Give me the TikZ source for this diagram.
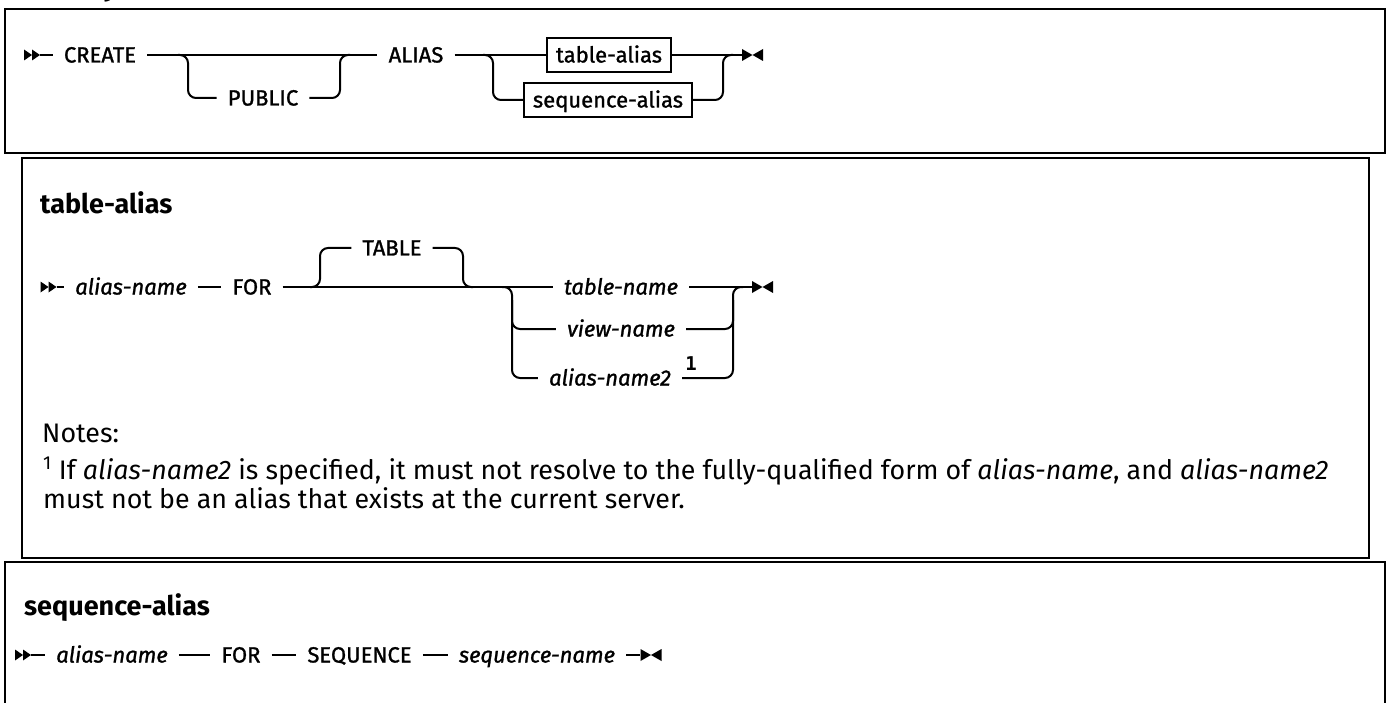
\documentclass[tikz,border=0pt]{standalone}
\usepackage{fontspec}
\setmainfont{Fira Sans}
\newfontfamily\railf{Fira Sans}[FakeBold=1.2]
\newfontfamily\monof{DejaVu Sans Mono}
\begin{document}
\begin{tikzpicture}[x=1pt,y=-1pt,
  rail/.style={line width=2pt, rounded corners=8pt},
  frame/.style={line width=2.5pt},
  kw/.style={font=\railf\fontsize{22}{26}\selectfont, inner xsep=11pt, inner ysep=0pt, text height=15pt, text depth=0pt},
  var/.style={kw, font=\railf\fontsize{22}{26}\selectfont\itshape},
  refbox/.style={draw, line width=2pt, font=\railf\fontsize{22}{26}\selectfont, inner xsep=9pt, inner ysep=0pt, minimum height=34pt, text height=15pt, text depth=0pt},
  head/.style={font=\fontsize{27}{32}\selectfont\bfseries, anchor=west, inner sep=0pt},
  note/.style={font=\fontsize{26.8}{31}\selectfont, inner sep=0pt, anchor=base west},
  supn/.style={font=\monof\bfseries\fontsize{19}{22}\selectfont, inner sep=0pt},
  startmk/.style={inner sep=0pt, minimum width=16pt, minimum height=11pt,
    path picture={
      \fill (path picture bounding box.north west) -- (path picture bounding box.south west) -- (path picture bounding box.center) -- cycle;
      \fill (path picture bounding box.north) -- (path picture bounding box.south) -- (path picture bounding box.east) -- cycle;}},
  endmk/.style={inner sep=0pt, minimum width=21pt, minimum height=12pt,
    path picture={
      \fill (path picture bounding box.north west) -- (path picture bounding box.south west) -- (path picture bounding box.center) -- cycle;
      \fill (path picture bounding box.north east) -- (path picture bounding box.south east) -- (path picture bounding box.center) -- cycle;}}
]
\clip (0,0) rectangle (1386,703);
\fill[white] (0,0) rectangle (1386,703);

% ---------- cut-off heading above the first frame
\node[font=\fontsize{30}{34}\selectfont\bfseries, inner sep=0pt, anchor=base west] (title) at (86,-4) {Syntax};

% ---------- frames
\draw[frame] (5,9) rectangle (1385,153);
\draw[frame] (22,158) rectangle (1369,558);
\draw[frame] (5,562) rectangle (1385,730);

% ---------- main diagram
\node[startmk] (s1) at (32,55) {};
\node[kw] (create) at (100,55) {CREATE};
\node[kw] (public) at (263,98) {PUBLIC};
\node[kw] (alias) at (416,55) {ALIAS};
\node[refbox] (tabref) at (609,55) {table-alias};
\node[refbox] (seqref) at (608,100) {sequence-alias};
\node[endmk] (e1) at (752.5,55) {};
\coordinate (p1a) at (178,55);
\coordinate (p1b) at (350,55);
\coordinate (p2a) at (483,55);
\coordinate (p2b) at (733,55);

\draw[rail] (s1.east) -- (create.west);
\draw[rail] (create.east) -- (alias.west);
\draw[rail] (p1a) -| (188,98) -- (public.west);
\draw[rail] (public.east) -| (340,55) -- (p1b);
\draw[rail] (alias.east) -- (tabref.west);
\draw[rail] (p2a) -| (493,100) -- (seqref.west);
\draw[rail] (tabref.east) -- (e1.west);
\draw[rail] (seqref.east) -| (723,55) -- (p2b);

% ---------- table-alias
\node[head] (h2) at (40,203) {table-alias};
\node[startmk] (s2) at (48.5,287) {};
\node[var] (an) at (131,287) {alias-name};
\node[kw] (for) at (252,287) {FOR};
\node[kw] (table) at (392,248) {TABLE};
\node[var] (tn) at (621,287) {table-name};
\node[var] (vn) at (621,329) {view-name};
\node[var] (an2) at (610,378) {alias-name2};
\node[supn] (fn1) at (691,364) {1};
\node[endmk] (e2) at (762.5,287) {};
\coordinate (t1) at (310,287);
\coordinate (t2) at (473,287);
\coordinate (u1) at (502,287);
\coordinate (u2) at (743,287);

\draw[rail] (s2.east) -- (an.west);
\draw[rail] (an.east) -- (for.west);
\draw[rail] (for.east) -- (tn.west);
\draw[rail] (t1) -| (320,248) -- (table.west);
\draw[rail] (table.east) -| (463,287) -- (t2);
\draw[rail] (u1) -| (512,378) -- (an2.west);
\draw[rail] (512,300) |- (vn.west);
\draw[rail] (tn.east) -- (e2.west);
\draw[rail] (an2.east) -| (733,287) -- (u2);
\draw[rail] (vn.east) -| (733,300);

\node[note] (notes) at (42,442) {Notes:};
\node[note] (fnote1) at (43,479)
  {\textsuperscript{1} If \textit{alias-name2} is specified, it must not resolve to the fully-qualified form of \textit{alias-name}, and \textit{alias-name2}};
\node[note] (fnote2) at (43,508)
  {must not be an alias that exists at the current server.};

% ---------- sequence-alias
\node[head] (h3) at (24,608) {sequence-alias};
\node[startmk] (s3) at (23,655) {};
\node[var] (an3) at (112,655) {alias-name};
\node[kw] (for3) at (241,655) {FOR};
\node[kw] (sq) at (359.5,655) {SEQUENCE};
\node[var] (sqn) at (537,655) {sequence-name};
\node[endmk] (e3) at (651,655) {};

\draw[rail] (s3.east) -- (an3.west);
\draw[rail] (an3.east) -- (for3.west);
\draw[rail] (for3.east) -- (sq.west);
\draw[rail] (sq.east) -- (sqn.west);
\draw[rail] (sqn.east) -- (e3.west);
\end{tikzpicture}
\end{document}
